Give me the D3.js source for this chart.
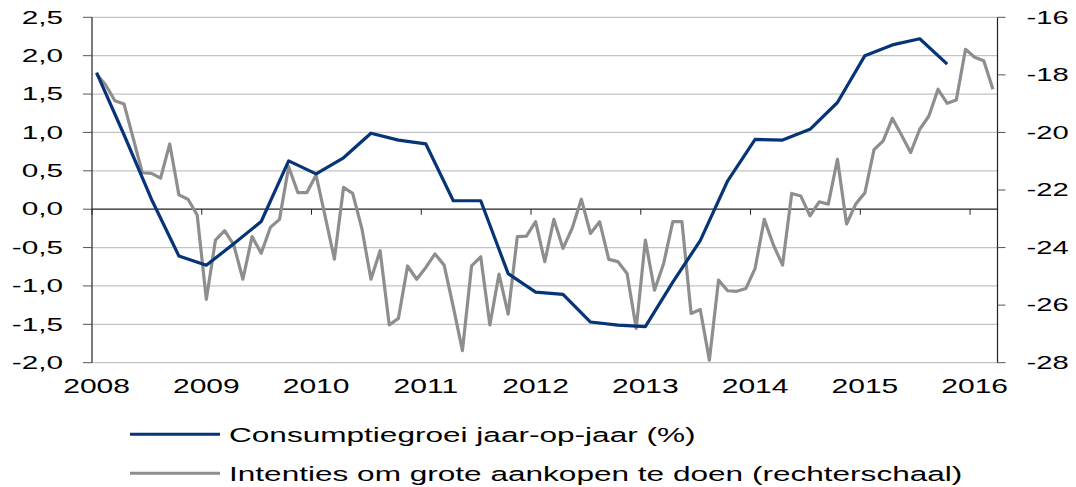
<!DOCTYPE html>
<html>
<head>
<meta charset="utf-8">
<script src="https://cdn.jsdelivr.net/npm/d3@7"></script>
<style>
  body { margin: 0; background: #fff; }
  svg text { font-family: "Liberation Sans", Arial, sans-serif; fill: #000; }
</style>
</head>
<body>
<svg id="chart" width="1076" height="487"></svg>
<script>
// consumptiegroei jaar-op-jaar (%), per kwartaal vanaf jan 2008
const consumptie = [
  1.78, 0.97, 0.13, -0.61, -0.73, -0.45, -0.16, 0.63, 0.46, 0.67, 0.99, 0.9,
  0.85, 0.11, 0.11, -0.84, -1.08, -1.11, -1.47, -1.51, -1.53, -0.95, -0.41, 0.37,
  0.91, 0.9, 1.04, 1.39, 2.0, 2.14, 2.22, 1.89
];
// intenties om grote aankopen te doen, per maand vanaf jan 2008 (rechterschaal)
const intenties = [
  -17.97, -18.35, -18.9, -19.01, -20.2, -21.4, -21.42, -21.59, -20.4, -22.17, -22.32, -22.87,
  -25.8, -23.74, -23.41, -23.91, -25.1, -23.62, -24.2, -23.3, -23.02, -21.19, -22.09, -22.09,
  -21.48, -22.93, -24.4, -21.91, -22.12, -23.33, -25.1, -24.11, -26.69, -26.46, -24.64, -25.1,
  -24.69, -24.22, -24.61, -26.06, -27.58, -24.64, -24.32, -26.69, -24.92, -26.31, -23.62, -23.6,
  -23.1, -24.49, -23.02, -24.03, -23.33, -22.32, -23.51, -23.1, -24.41, -24.49, -24.9, -26.81,
  -23.74, -25.48, -24.55, -23.1, -23.1, -26.29, -26.15, -27.91, -25.13, -25.5, -25.52, -25.42,
  -24.72, -23.02, -23.91, -24.61, -22.12, -22.21, -22.9, -22.41, -22.49, -20.93, -23.18, -22.49,
  -22.1, -20.6, -20.29, -19.51, -20.09, -20.7, -19.89, -19.43, -18.5, -18.99, -18.87, -17.11,
  -17.39, -17.51, -18.5
];
const years = [2008, 2009, 2010, 2011, 2012, 2013, 2014, 2015, 2016];
const leftTicks = [2.5, 2.0, 1.5, 1.0, 0.5, 0.0, -0.5, -1.0, -1.5, -2.0];
const rightTicks = [-16, -18, -20, -22, -24, -26, -28];
const legendLabels = [
  "Consumptiegroei jaar-op-jaar (%)",
  "Intenties om grote aankopen te doen (rechterschaal)"
];

const colors = ["#063477", "#8e8e8e"];
const nMonths = 99;

const svg = d3.select("#chart");
const plot = { left: 92, right: 997.5, top: 17.3, bottom: 362.7 };

const x = d3.scaleLinear().domain([0, nMonths]).range([plot.left, plot.right]);
const yL = d3.scaleLinear().domain([-2, 2.5]).range([plot.bottom, plot.top]);
const yR = d3.scaleLinear().domain([-28, -16]).range([plot.bottom, plot.top]);

const nl = d3.formatLocale({ decimal: ",", thousands: ".", grouping: [3], currency: ["", ""], minus: "-" });
const fmt = nl.format(".1f");

// text in the picture is stretched horizontally
function stretchedText(g, px, py, txt, size, sx, anchor) {
  return g.append("text")
    .attr("transform", `translate(${px},${py}) scale(${sx},1)`)
    .attr("text-anchor", anchor)
    .attr("font-size", size)
    .text(txt);
}

// gridlines
svg.append("g")
  .selectAll("line")
  .data(leftTicks.filter((d) => d !== 0))
  .join("line")
  .attr("x1", plot.left).attr("x2", plot.right)
  .attr("y1", (d) => yL(d)).attr("y2", (d) => yL(d))
  .attr("stroke", "#c3c3c3")
  .attr("stroke-width", 1.3);

// left axis
const gl = svg.append("g");
gl.append("line")
  .attr("x1", plot.left).attr("x2", plot.left)
  .attr("y1", plot.top).attr("y2", plot.bottom)
  .attr("stroke", "#222").attr("stroke-width", 1.2);
leftTicks.forEach((d) => {
  gl.append("line")
    .attr("x1", plot.left - 9).attr("x2", plot.left)
    .attr("y1", yL(d)).attr("y2", yL(d))
    .attr("stroke", "#555").attr("stroke-width", 1);
  stretchedText(gl, 63, yL(d) + 6.3, fmt(d), 17.5, 1.7, "end");
});

// right axis
const gr = svg.append("g");
gr.append("line")
  .attr("x1", plot.right).attr("x2", plot.right)
  .attr("y1", plot.top).attr("y2", plot.bottom)
  .attr("stroke", "#222").attr("stroke-width", 1.2);
rightTicks.forEach((d) => {
  gr.append("line")
    .attr("x1", plot.right).attr("x2", plot.right + 8)
    .attr("y1", yR(d)).attr("y2", yR(d))
    .attr("stroke", "#555").attr("stroke-width", 1);
  stretchedText(gr, 1026.5, yR(d) + 6.3, d3.format("d")(d).replace("−", "-"), 17.5, 1.67, "start");
});

// x axis on the zero line
const gx = svg.append("g");
gx.append("line")
  .attr("x1", plot.left).attr("x2", plot.right)
  .attr("y1", yL(0)).attr("y2", yL(0))
  .attr("stroke", "#222").attr("stroke-width", 1.2);
years.forEach((yr, i) => {
  const m = i * 12;
  gx.append("line")
    .attr("x1", x(m)).attr("x2", x(m))
    .attr("y1", yL(0)).attr("y2", yL(0) + 5.5)
    .attr("stroke", "#222").attr("stroke-width", 1);
  stretchedText(gx, x(m + 0.5), 393, yr, 21, 1.43, "middle");
});

// series
const lineL = d3.line().x((d) => x(d.m + 0.5)).y((d) => yL(d.v));
const lineR = d3.line().x((d) => x(d.m + 0.5)).y((d) => yR(d.v));

svg.append("path")
  .datum(intenties.map((v, i) => ({ m: i, v: v })))
  .attr("d", lineR)
  .attr("fill", "none")
  .attr("stroke", colors[1])
  .attr("stroke-width", 3.2)
  .attr("stroke-linejoin", "round");

svg.append("path")
  .datum(consumptie.map((v, i) => ({ m: i * 3, v: v })))
  .attr("d", lineL)
  .attr("fill", "none")
  .attr("stroke", colors[0])
  .attr("stroke-width", 3.2)
  .attr("stroke-linejoin", "round");

// legend
const lg = svg.append("g");
legendLabels.forEach((lab, i) => {
  const ly = 434.3 + i * 39;
  lg.append("line")
    .attr("x1", 130).attr("x2", 220)
    .attr("y1", ly).attr("y2", ly)
    .attr("stroke", colors[i])
    .attr("stroke-width", 3);
  stretchedText(lg, 229, ly + 7.3, lab, 20.5, 1.54, "start");
});
</script>
</body>
</html>
